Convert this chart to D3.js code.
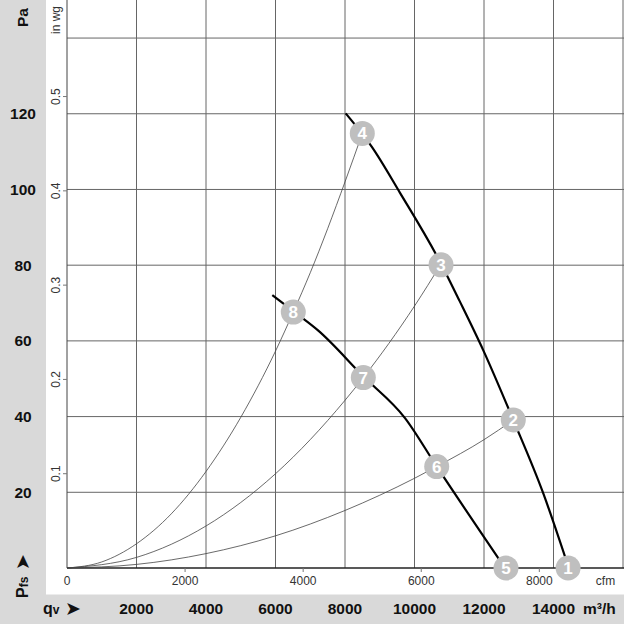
<!DOCTYPE html>
<html>
<head>
<meta charset="utf-8">
<script src="https://cdn.jsdelivr.net/npm/d3@7"></script>
<style>
  html, body { margin: 0; padding: 0; background: #fff; }
  svg { display: block; }
</style>
</head>
<body>
<div id="chart"></div>
<script>
// tick values
const qvTicks = [2000, 4000, 6000, 8000, 10000, 12000, 14000];   // m³/h
const gridQv = [2000, 4000, 6000, 8000, 10000, 12000, 14000, 16000];
const paTicks = [20, 40, 60, 80, 100, 120];                       // Pa
const gridPa = [20, 40, 60, 80, 100, 120, 140];
const cfmTicks = [0, 2000, 4000, 6000, 8000];                     // cfm
const inwgTicks = [0.1, 0.2, 0.3, 0.4, 0.5];                      // in wg

// operating curves [qv m³/h, Pa]
const fanHigh = [[8020, 120.1], [8768, 111.3], [9583, 99.1], [10763, 80.4], [11300, 70.5],
  [11980, 57.5], [12843, 39.1], [13706, 19.7], [14440, 0]];
const fanLow = [[5908, 72.1], [6561, 67.5], [7232, 62.7], [8518, 50.7], [9727, 39.6],
  [10633, 26.9], [12604, 0]];

// system curves
const sysA = [[0, 0], [1000, 1.6], [2000, 6.4], [3000, 14.3], [4000, 25.5], [5000, 39.8],
  [6000, 57.3], [6512, 67.6], [7000, 78], [8000, 102], [8498, 114.8]];
const sysB = [[0, 0], [2000, 2.8], [4000, 11.1], [6000, 24.9], [8000, 44.3], [8527, 50.3],
  [10000, 69.2], [10763, 80.3]];
const sysC = [[0, 0], [2000, 0.95], [4000, 3.8], [6000, 8.5], [8000, 15.2], [10000, 23.7],
  [10639, 26.8], [12000, 33.9], [12843, 39.1]];

// numbered operating points
const markerIds = [1, 2, 3, 4, 5, 6, 7, 8];
const markerQv = [14420, 12843, 10763, 8498, 12633, 10639, 8527, 6512];
const markerPa = [0, 39.1, 80.1, 114.8, 0, 26.8, 50.3, 67.6];

const width = 624, height = 624;
const plot = {left: 67, right: 623, top: 0.2, bottom: 568};
const font = "'Liberation Sans', Arial, sans-serif";

const svg = d3.select("#chart").append("svg")
  .attr("width", width).attr("height", height)
  .attr("font-family", font);

// grey bands
svg.append("rect").attr("x", 0).attr("y", 0).attr("width", 46).attr("height", height).attr("fill", "#d9d9d9");
svg.append("rect").attr("x", 0).attr("y", 594.5).attr("width", width).attr("height", 30).attr("fill", "#d9d9d9");

const x = d3.scaleLinear().domain([0, 16000]).range([plot.left, plot.right]);
const y = d3.scaleLinear().domain([0, 150]).range([plot.bottom, plot.top]);
const cfmToM3h = 1.699;
const inwgToPa = 249.09;

// grid
svg.append("g").selectAll("line").data(gridQv).join("line")
  .attr("x1", d => x(d)).attr("x2", d => x(d))
  .attr("y1", 0).attr("y2", plot.bottom)
  .attr("stroke", "#666").attr("stroke-width", 1);
svg.append("g").selectAll("line").data(gridPa).join("line")
  .attr("x1", plot.left).attr("x2", width)
  .attr("y1", d => y(d)).attr("y2", d => y(d))
  .attr("stroke", "#666").attr("stroke-width", 1);

// axes lines
svg.append("line").attr("x1", plot.left).attr("x2", plot.left).attr("y1", 0).attr("y2", plot.bottom)
  .attr("stroke", "#444").attr("stroke-width", 1);
svg.append("line").attr("x1", plot.left).attr("x2", width).attr("y1", plot.bottom).attr("y2", plot.bottom)
  .attr("stroke", "#222").attr("stroke-width", 1.5);

// cfm secondary axis
svg.append("g").selectAll("line").data(cfmTicks.slice(1)).join("line")
  .attr("x1", d => x(d * cfmToM3h)).attr("x2", d => x(d * cfmToM3h))
  .attr("y1", plot.bottom).attr("y2", plot.bottom + 4)
  .attr("stroke", "#777");
svg.append("g").selectAll("text").data(cfmTicks).join("text")
  .attr("x", d => x(d * cfmToM3h)).attr("y", 585)
  .attr("text-anchor", "middle").attr("font-size", 12).attr("fill", "#333")
  .text(d => d);
svg.append("text").attr("x", 605.5).attr("y", 585).attr("text-anchor", "middle")
  .attr("font-size", 12).attr("fill", "#333").text("cfm");

// in wg secondary axis
svg.append("g").selectAll("line").data(inwgTicks).join("line")
  .attr("x1", 63).attr("x2", plot.left)
  .attr("y1", d => y(d * inwgToPa)).attr("y2", d => y(d * inwgToPa))
  .attr("stroke", "#777");
svg.append("g").selectAll("text").data(inwgTicks).join("text")
  .attr("transform", d => `translate(60, ${y(d * inwgToPa)}) rotate(-90)`)
  .attr("text-anchor", "middle").attr("font-size", 12).attr("fill", "#333")
  .text(d => d);
svg.append("text").attr("transform", "translate(60, 20) rotate(-90)")
  .attr("text-anchor", "middle").attr("font-size", 12).attr("fill", "#333").text("in wg");

// Pa labels
svg.append("g").selectAll("text").data(paTicks).join("text")
  .attr("x", 23).attr("y", d => y(d) + 5.5)
  .attr("text-anchor", "middle").attr("font-size", 15.5).attr("font-weight", "bold").attr("fill", "#111")
  .text(d => d);
svg.append("text").attr("transform", "translate(28, 17.5) rotate(-90)")
  .attr("text-anchor", "middle").attr("font-size", 15.5).attr("font-weight", "bold").attr("fill", "#111")
  .text("Pa");
const pfs = svg.append("text").attr("transform", "translate(28, 598) rotate(-90)")
  .attr("font-size", 16).attr("font-weight", "bold").attr("fill", "#111");
pfs.append("tspan").text("P");
pfs.append("tspan").attr("font-size", 12).text("fs");
svg.append("text").attr("transform", "translate(29, 570) rotate(-90)")
  .attr("font-family", "'DejaVu Sans'").attr("font-size", 19).attr("fill", "#111").text("➤");

// qv labels
svg.append("g").selectAll("text").data(qvTicks).join("text")
  .attr("x", d => x(d)).attr("y", 614)
  .attr("text-anchor", "middle").attr("font-size", 15.5).attr("font-weight", "bold").attr("fill", "#111")
  .text(d => d);
const qv = svg.append("text").attr("x", 43).attr("y", 614)
  .attr("font-size", 16).attr("font-weight", "bold").attr("fill", "#111");
qv.append("tspan").text("q");
qv.append("tspan").attr("font-size", 12).text("v");
svg.append("text").attr("x", 65).attr("y", 615)
  .attr("font-family", "'DejaVu Sans'").attr("font-size", 19).attr("fill", "#111").text("➤");
svg.append("text").attr("x", 583).attr("y", 614)
  .attr("font-size", 15.5).attr("font-weight", "bold").attr("fill", "#111").text("m³/h");

// curves
const line = d3.line().x(d => x(d[0])).y(d => y(d[1])).curve(d3.curveMonotoneX);
[sysA, sysB, sysC].forEach(c => {
  svg.append("path").datum(c).attr("d", line)
    .attr("fill", "none").attr("stroke", "#444").attr("stroke-width", 0.8);
});
[fanHigh, fanLow].forEach(c => {
  svg.append("path").datum(c).attr("d", line)
    .attr("fill", "none").attr("stroke", "#000").attr("stroke-width", 2.2);
});

// markers
const markers = markerIds.map((id, i) => ({id, qv: markerQv[i], pa: markerPa[i]}));
const mg = svg.append("g").selectAll("g").data(markers).join("g")
  .attr("transform", d => `translate(${x(d.qv)}, ${y(d.pa)})`);
mg.append("circle").attr("r", 12.5).attr("fill", "#bfbfbf");
mg.append("text").attr("y", 6).attr("text-anchor", "middle")
  .attr("font-size", 17).attr("font-weight", "bold").attr("fill", "#fff")
  .text(d => d.id);
</script>
</body>
</html>
